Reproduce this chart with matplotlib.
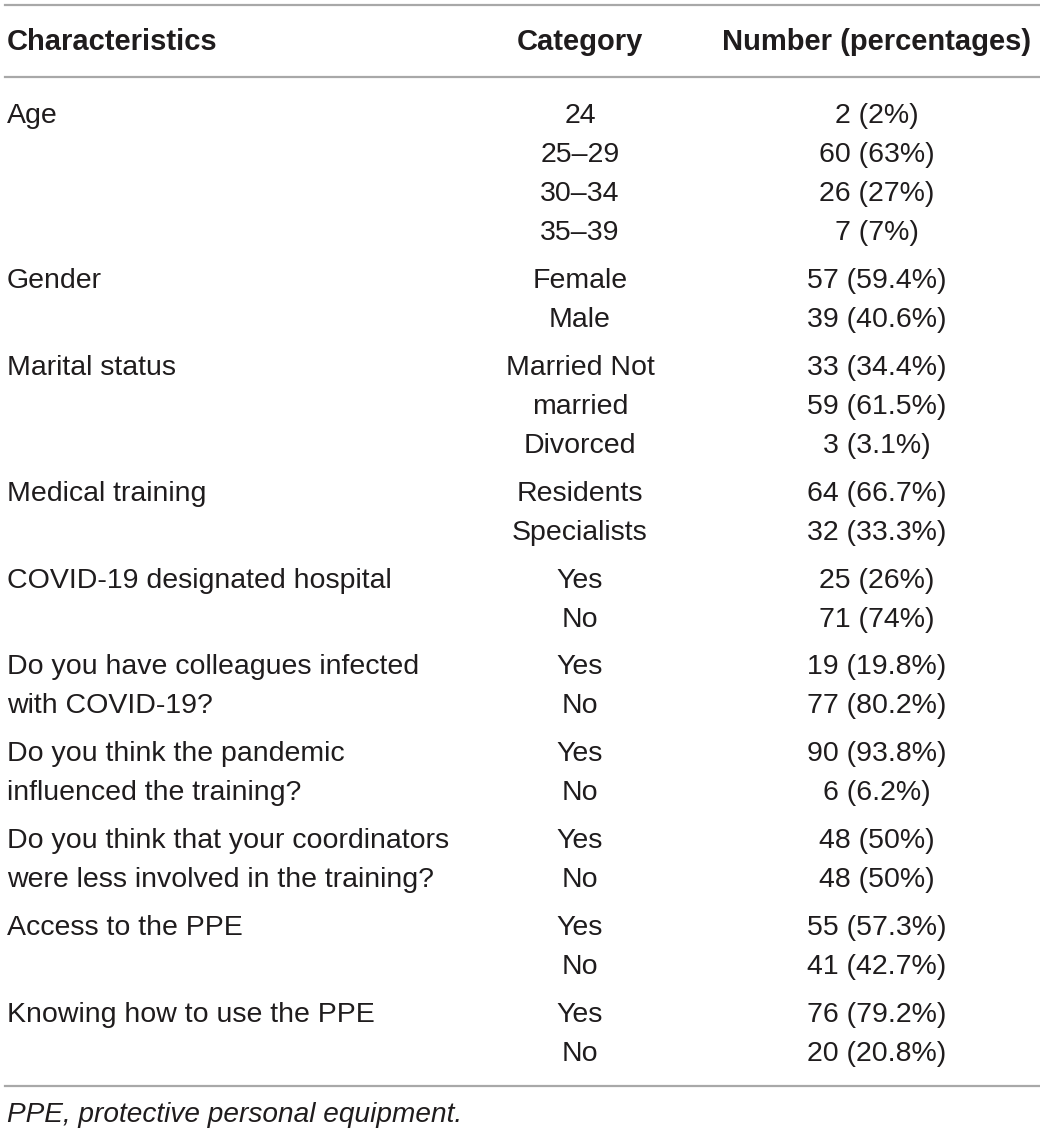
import matplotlib.pyplot as plt

plt.rcParams['font.family'] = ['Liberation Sans', 'DejaVu Sans']

headers = ['Characteristics', 'Category', 'Number (percentages)']

characteristics = [
    ['Age'],
    ['Gender'],
    ['Marital status'],
    ['Medical training'],
    ['COVID-19 designated hospital'],
    ['Do you have colleagues infected', 'with COVID-19?'],
    ['Do you think the pandemic', 'influenced the training?'],
    ['Do you think that your coordinators', 'were less involved in the training?'],
    ['Access to the PPE'],
    ['Knowing how to use the PPE'],
]
categories = [
    ['24', '25\u201329', '30\u201334', '35\u201339'],
    ['Female', 'Male'],
    ['Married Not', 'married', 'Divorced'],
    ['Residents', 'Specialists'],
    ['Yes', 'No'],
    ['Yes', 'No'],
    ['Yes', 'No'],
    ['Yes', 'No'],
    ['Yes', 'No'],
    ['Yes', 'No'],
]
numbers = [
    ['2 (2%)', '60 (63%)', '26 (27%)', '7 (7%)'],
    ['57 (59.4%)', '39 (40.6%)'],
    ['33 (34.4%)', '59 (61.5%)', '3 (3.1%)'],
    ['64 (66.7%)', '32 (33.3%)'],
    ['25 (26%)', '71 (74%)'],
    ['19 (19.8%)', '77 (80.2%)'],
    ['90 (93.8%)', '6 (6.2%)'],
    ['48 (50%)', '48 (50%)'],
    ['55 (57.3%)', '41 (42.7%)'],
    ['76 (79.2%)', '20 (20.8%)'],
]
footnote = 'PPE, protective personal equipment.'

W, H = 1040, 1135
fig = plt.figure(figsize=(W / 100, H / 100), dpi=100)
ax = fig.add_axes([0, 0, 1, 1])
ax.set_xlim(0, W)
ax.set_ylim(H, 0)
ax.axis('off')

txt = '#1f1c1d'
line_c = '#a8a8a8'
fs = 20.5
fs_head = 21
x_char, x_cat, x_num = 7, 580, 877
row_h = 39.0
group_gap = 47.9

# horizontal rules
for yl in (5, 77, 1086):
    ax.plot([5, W], [yl, yl], color=line_c, lw=1.6)

# header row
ax.text(x_char, 50, headers[0], fontsize=fs_head, fontweight='bold', color=txt, va='baseline', ha='left')
ax.text(x_cat, 50, headers[1], fontsize=fs_head, fontweight='bold', color=txt, va='baseline', ha='center')
ax.text(x_num, 50, headers[2], fontsize=fs_head, fontweight='bold', color=txt, va='baseline', ha='center')

# body
y = 123
for chars, cats, nums in zip(characteristics, categories, numbers):
    for i, c in enumerate(chars):
        ax.text(x_char, y + i * row_h, c, fontsize=fs, color=txt, va='baseline', ha='left')
    for i, (c, n) in enumerate(zip(cats, nums)):
        ax.text(x_cat, y + i * row_h, c, fontsize=fs, color=txt, va='baseline', ha='center')
        ax.text(x_num, y + i * row_h, n, fontsize=fs, color=txt, va='baseline', ha='center')
    y += (len(cats) - 1) * row_h + group_gap

ax.text(x_char, 1122, footnote, fontsize=20.2, style='italic', color=txt, va='baseline', ha='left')

fig.savefig('out.png', dpi=100)
